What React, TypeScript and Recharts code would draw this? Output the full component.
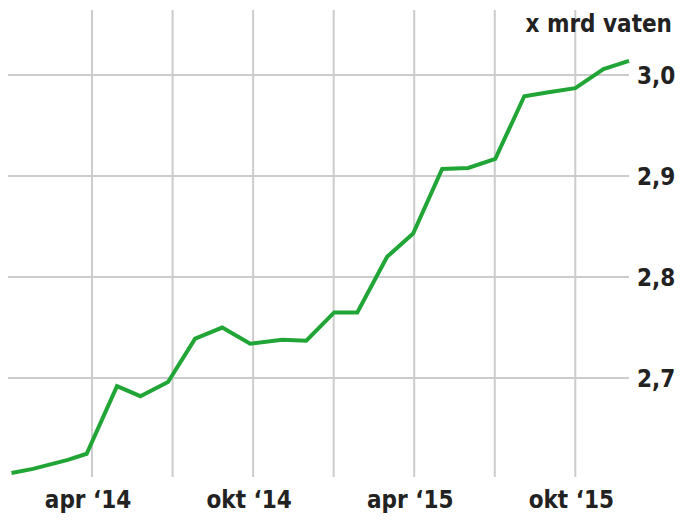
import React, { ReactElement } from "react";
import { LineChart, Line, XAxis, YAxis, CartesianGrid } from "recharts";

// months since jan '14 (a few points fall mid-month)
const months: number[] = [
    0, 0.8, 2.1, 2.8, 3.93, 4.8, 5.83, 6.84, 7.85, 8.89, 10.08, 10.98,
    12.02, 12.88, 13.99, 14.96, 16.04, 17.01, 18.02, 19.1, 20.0, 21.0, 22.05, 23.0
];

const values: number[] = [
    2.606, 2.61, 2.619, 2.625, 2.692, 2.682, 2.696, 2.739, 2.75, 2.734, 2.738, 2.737,
    2.765, 2.765, 2.82, 2.843, 2.907, 2.908, 2.917, 2.979, 2.983, 2.987, 3.006, 3.014
];

const xTicks: number[] = [3, 6, 9, 12, 15, 18, 21];
const xLabels: Record<number, string> = {
    3: "apr \u201814",
    9: "okt \u201814",
    15: "apr \u201815",
    21: "okt \u201815"
};
const yTicks: number[] = [2.7, 2.8, 2.9, 3.0];
const unitLabel = "x mrd vaten";

const data = months.map((m, i) => ({ m, v: values[i] }));

const FONT = "'DejaVu Sans Condensed', 'Liberation Sans Narrow', sans-serif";

const App = (): ReactElement => {
    return (
        <div style={{ position: "absolute", left: 0, top: 0, width: 692, height: 525, background: "#fff" }}>
            <LineChart
                width={692}
                height={525}
                data={data}
                margin={{ top: 10, left: 8, right: 0, bottom: 0 }}
            >
                <CartesianGrid
                    stroke="#cccccc"
                    strokeWidth={2}
                    horizontalValues={yTicks}
                    verticalValues={xTicks}
                />
                <XAxis
                    dataKey="m"
                    type="number"
                    domain={[-0.13, 23]}
                    ticks={xTicks}
                    tickFormatter={(t: number) => xLabels[t] ?? ""}
                    axisLine={false}
                    tickLine={false}
                    height={48}
                    tick={{ fontFamily: FONT, fontWeight: 700, fontSize: 24, fill: "#222", dx: -4, dy: 6 }}
                    interval={0}
                />
                <YAxis
                    orientation="right"
                    type="number"
                    domain={[2.602, 3.0644]}
                    ticks={yTicks}
                    tickFormatter={(t: number) => t.toFixed(1).replace(".", ",")}
                    axisLine={false}
                    tickLine={false}
                    width={63}
                    tick={{ fontFamily: FONT, fontWeight: 700, fontSize: 24, fill: "#222", textAnchor: "start" }}
                    tickMargin={2}
                    allowDataOverflow
                />
                <Line
                    type="linear"
                    dataKey="v"
                    stroke="#22a537"
                    strokeWidth={4}
                    dot={false}
                    isAnimationActive={false}
                />
            </LineChart>
            <div
                style={{
                    position: "absolute",
                    right: 20,
                    top: 10,
                    fontFamily: FONT,
                    fontWeight: 700,
                    fontSize: 24,
                    color: "#222"
                }}
            >
                {unitLabel}
            </div>
        </div>
    );
};

export default App;
